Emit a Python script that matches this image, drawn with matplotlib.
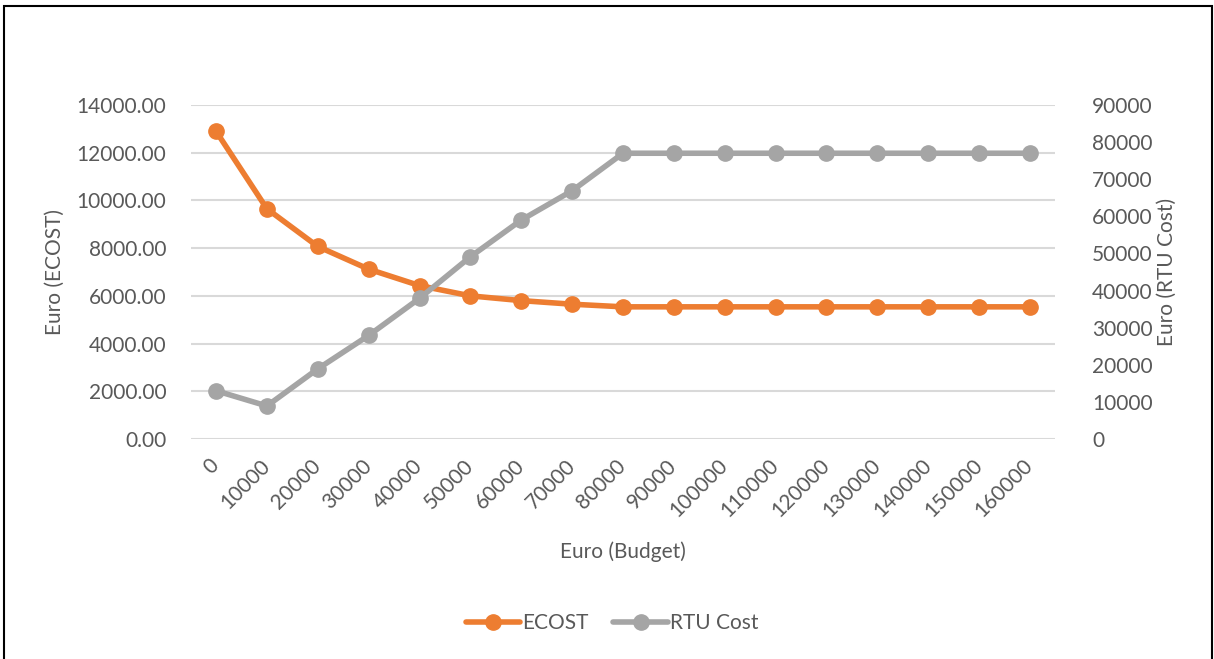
import matplotlib.pyplot as plt
import numpy as np
from matplotlib.patches import Rectangle

# Budget steps (x categories)
budget = ["0", "10000", "20000", "30000", "40000", "50000", "60000", "70000", "80000",
          "90000", "100000", "110000", "120000", "130000", "140000", "150000", "160000"]

# ECOST (left axis)
ecost = [12900, 9650, 8070, 7120, 6430, 6000, 5800, 5650, 5540,
         5540, 5540, 5540, 5540, 5540, 5540, 5540, 5540]

# RTU Cost (right axis)
rtu_cost = [13000, 8900, 18900, 27900, 37900, 49100, 59000, 66900, 77000,
            77000, 77000, 77000, 77000, 77000, 77000, 77000, 77000]

orange = "#ED7D31"
grey = "#A5A5A5"
txt = "#595959"

plt.rcParams["font.family"] = ["Lato", "DejaVu Sans"]

W, H = 1214, 659
fig = plt.figure(figsize=(W / 100, H / 100), dpi=100)
ax = fig.add_axes([190.6 / W, (H - 439) / H, 864.8 / W, 334 / H])
ax2 = ax.twinx()

x = np.arange(len(budget))

ax.plot(x, ecost, color=orange, lw=4, marker="o", ms=11, label="ECOST",
        solid_capstyle="round", zorder=3)
ax2.plot(x, rtu_cost, color=grey, lw=4, marker="o", ms=11, label="RTU Cost",
         solid_capstyle="round", zorder=3)

ax.set_xlim(-0.5, len(budget) - 0.5)
ax.set_ylim(0, 14000)
ax2.set_ylim(0, 90000)

ax.set_yticks(np.arange(0, 14001, 2000))
ax.set_yticklabels([f"{v:.2f}" for v in np.arange(0, 14001, 2000)])
ax2.set_yticks(np.arange(0, 90001, 10000))

ax.set_xticks(x)
ax.set_xticklabels(budget, rotation=45, ha="right", va="center", rotation_mode="anchor")

ax.grid(axis="y", color="#D9D9D9", lw=1.5)
ax.set_axisbelow(True)

for a in (ax, ax2):
    for s in a.spines.values():
        s.set_visible(False)
    a.tick_params(length=0, labelsize=15, colors=txt)

ax.tick_params(axis="y", pad=17.5)
ax.tick_params(axis="x", pad=17)
ax2.tick_params(axis="y", pad=26.5)

# axis titles, centred at fixed spots around the plot
ax.set_ylabel("Euro (ECOST)", fontsize=15, color=txt)
ax.yaxis.label.set(va="center", ha="center", rotation_mode="default")
ax.yaxis.set_label_coords(-0.1568, 0.5)

ax2.set_ylabel("Euro (RTU Cost)", fontsize=15, color=txt, rotation=90)
ax2.yaxis.label.set(va="center", ha="center", rotation_mode="default")
ax2.yaxis.set_label_coords(1.129, 0.5)

ax.set_xlabel("Euro (Budget)", fontsize=15, color=txt)
ax.xaxis.label.set(va="center", ha="center")
ax.xaxis.set_label_coords(0.5, -0.3383)

h1, l1 = ax.get_legend_handles_labels()
h2, l2 = ax2.get_legend_handles_labels()
fig.legend(h1 + h2, l1 + l2, loc="center", bbox_to_anchor=(612 / W, (H - 623) / H),
           ncol=2, frameon=False, fontsize=15, labelcolor=txt,
           handlelength=2.6, handletextpad=0.1, columnspacing=1.2)

# outer frame
fig.patches.append(Rectangle((3.5 / W, -0.05), 1208 / W, 1.05 - 6 / H,
                             transform=fig.transFigure, fill=False,
                             edgecolor="black", lw=1.5))

fig.savefig("out.png", dpi=100)
